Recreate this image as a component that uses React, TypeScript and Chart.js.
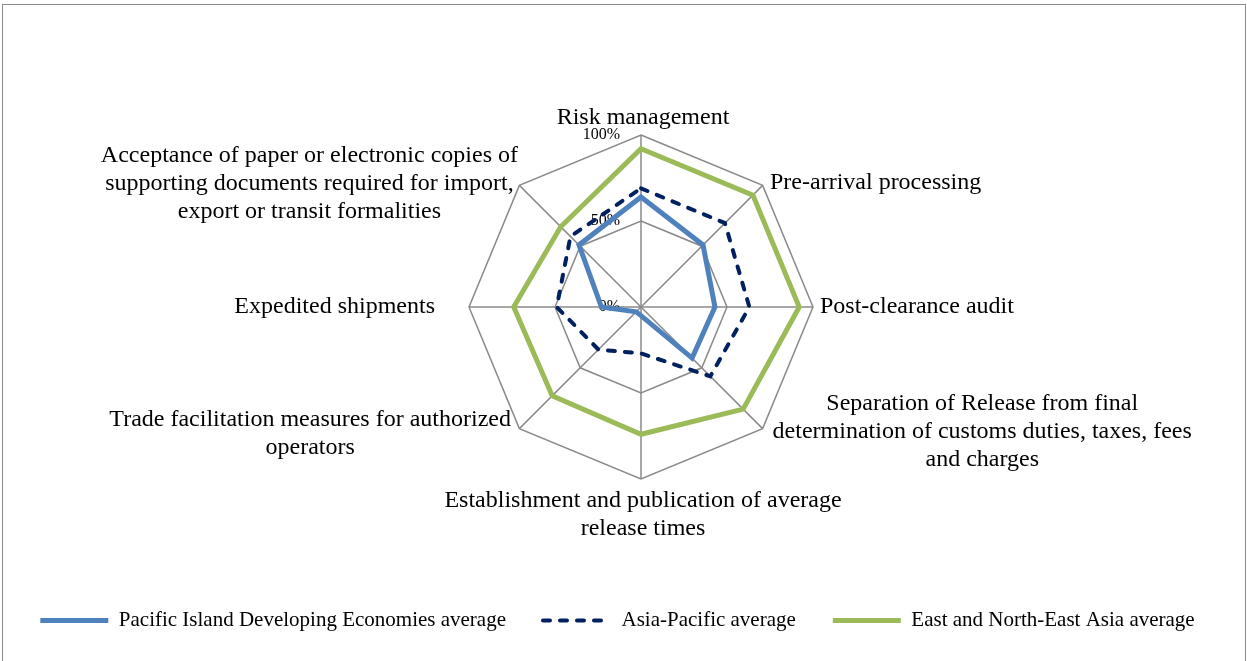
import React, { useEffect, useRef } from "react";
import { Chart, registerables } from "chart.js";

Chart.register(...registerables);

// ---- Data ----
const categories: string[][] = [
  ["Risk management"],
  ["Pre-arrival processing"],
  ["Post-clearance audit"],
  ["Separation of Release from final", "determination of customs duties, taxes, fees", "and charges"],
  ["Establishment and publication of average", "release times"],
  ["Trade facilitation measures for authorized", "operators"],
  ["Expedited shipments"],
  [
    "Acceptance of paper or electronic copies of",
    "supporting documents required for import,",
    "export or transit formalities",
  ],
];
const pacificIsland = [64, 51, 43, 42, 5, 4, 23, 51];
const asiaPacific = [69, 69, 63, 57, 27, 35, 49, 58];
const eastNorthEastAsia = [92, 92, 92, 84, 74, 73, 74, 66];
const seriesNames = [
  "Pacific Island Developing Economies average",
  "Asia-Pacific average",
  "East and North-East Asia average",
];
const tickMin = 0;
const tickMax = 100;
const tickStep = 50;

// ---- Style / layout ----
const FONT = "'Liberation Serif', 'Times New Roman', serif";
const LABEL_SIZE = 24;
const LABEL_LINE = 28;
const CENTER_X = 641;
const CENTER_Y = 307;
const RADIUS = 172;
// dx: horizontal offset from the 100% vertex to the block anchor; dy: first baseline offset
const labelLayout = [
  { align: "center", dx: 2, dy: -11.5 },
  { align: "left", dx: 7.4, dy: 3.9 },
  { align: "left", dx: 7, dy: 6.3 },
  { align: "left", dx: 10, dy: -18.6 },
  { align: "center", dx: 2, dy: 27.7 },
  { align: "right", dx: -8.4, dy: -2.6 },
  { align: "right", dx: -34, dy: 6 },
  { align: "right", dx: -1.4, dy: -23 },
];

const labelPlugin = {
  id: "customRadarText",
  beforeDatasetsDraw(chart: any) {
    const s = chart.scales.r;
    const ctx = chart.ctx;
    ctx.save();
    ctx.font = `16px ${FONT}`;
    ctx.fillStyle = "#000";
    ctx.textAlign = "right";
    ctx.textBaseline = "middle";
    s.ticks.forEach((t: any) => {
      const y = s.yCenter - s.getDistanceFromCenterForValue(t.value);
      ctx.fillText(`${t.value}%`, s.xCenter - 21, y);
    });
    ctx.restore();
  },
  afterDraw(chart: any) {
    const s = chart.scales.r;
    const ctx = chart.ctx;
    ctx.save();
    ctx.font = `${LABEL_SIZE}px ${FONT}`;
    ctx.fillStyle = "#000";
    ctx.textAlign = "center";
    ctx.textBaseline = "alphabetic";
    categories.forEach((lines, i) => {
      const p = s.getPointPosition(i, s.getDistanceFromCenterForValue(tickMax));
      const lay = labelLayout[i];
      const w = Math.max(...lines.map((l) => ctx.measureText(l).width));
      let left = p.x + lay.dx;
      if (lay.align === "right") left -= w;
      else if (lay.align === "center") left -= w / 2;
      lines.forEach((l, k) => {
        ctx.fillText(l, left + w / 2, p.y + lay.dy + k * LABEL_LINE);
      });
    });
    ctx.restore();
  },
};

export default function App() {
  const ref = useRef<HTMLCanvasElement | null>(null);

  useEffect(() => {
    if (!ref.current) return;
    Chart.defaults.font.family = FONT;
    const chart = new Chart(ref.current, {
      type: "radar",
      data: {
        labels: categories.map((c) => c.join(" ")),
        datasets: [
          {
            label: seriesNames[0],
            data: pacificIsland,
            borderColor: "#4F81BD",
            backgroundColor: "#4F81BD",
            borderWidth: 5,
            fill: false,
            pointRadius: 0,
            pointHoverRadius: 0,
            clip: false as any,
          },
          {
            label: seriesNames[1],
            data: asiaPacific,
            borderColor: "#002060",
            backgroundColor: "#002060",
            borderWidth: 4,
            borderDash: [7, 10],
            borderCapStyle: "round",
            fill: false,
            pointRadius: 0,
            pointHoverRadius: 0,
            clip: false as any,
          },
          {
            label: seriesNames[2],
            data: eastNorthEastAsia,
            borderColor: "#9BBB59",
            backgroundColor: "#9BBB59",
            borderWidth: 5,
            fill: false,
            pointRadius: 0,
            pointHoverRadius: 0,
            clip: false as any,
          },
        ],
      },
      options: {
        animation: false,
        responsive: true,
        maintainAspectRatio: false,
        layout: { padding: { left: 0, right: 12, top: 0, bottom: 20 } },
        scales: {
          r: {
            min: tickMin,
            max: tickMax,
            ticks: { stepSize: tickStep, display: false },
            grid: { color: "#8a8a8a", lineWidth: 1.5 },
            angleLines: { color: "#8a8a8a", lineWidth: 1.5 },
            pointLabels: { display: false },
            afterFit: (scale: any) => {
              scale.xCenter = CENTER_X;
              scale.yCenter = CENTER_Y;
              scale.drawingArea = RADIUS;
            },
          } as any,
        },
        plugins: {
          tooltip: { enabled: false },
          legend: {
            position: "bottom",
            labels: {
              usePointStyle: true,
              pointStyle: "line",
              pointStyleWidth: 68,
              boxHeight: 21,
              padding: 37,
              color: "#000",
              font: { family: FONT, size: 21 },
              generateLabels: (c: any) =>
                c.data.datasets.map((ds: any, i: number) => ({
                  text: ds.label,
                  strokeStyle: ds.borderColor,
                  fillStyle: ds.borderColor,
                  lineWidth: ds.borderWidth,
                  lineDash: ds.borderDash || [],
                  lineCap: ds.borderCapStyle || "butt",
                  pointStyle: "line",
                  hidden: false,
                  datasetIndex: i,
                  fontColor: "#000",
                })),
            },
          },
        },
      },
      plugins: [labelPlugin],
    });
    return () => chart.destroy();
  }, []);

  return (
    <div
      style={{
        position: "absolute",
        left: 0,
        top: 0,
        width: 1247,
        height: 661,
        overflow: "hidden",
        background: "#fff",
      }}
    >
      <div
        style={{
          position: "absolute",
          left: 2,
          top: 4,
          width: 1242,
          height: 700,
          border: "1.5px solid #8a8a8a",
        }}
      />
      <div style={{ position: "absolute", left: 0, top: 0, width: 1247, height: 661 }}>
        <canvas ref={ref} />
      </div>
    </div>
  );
}
